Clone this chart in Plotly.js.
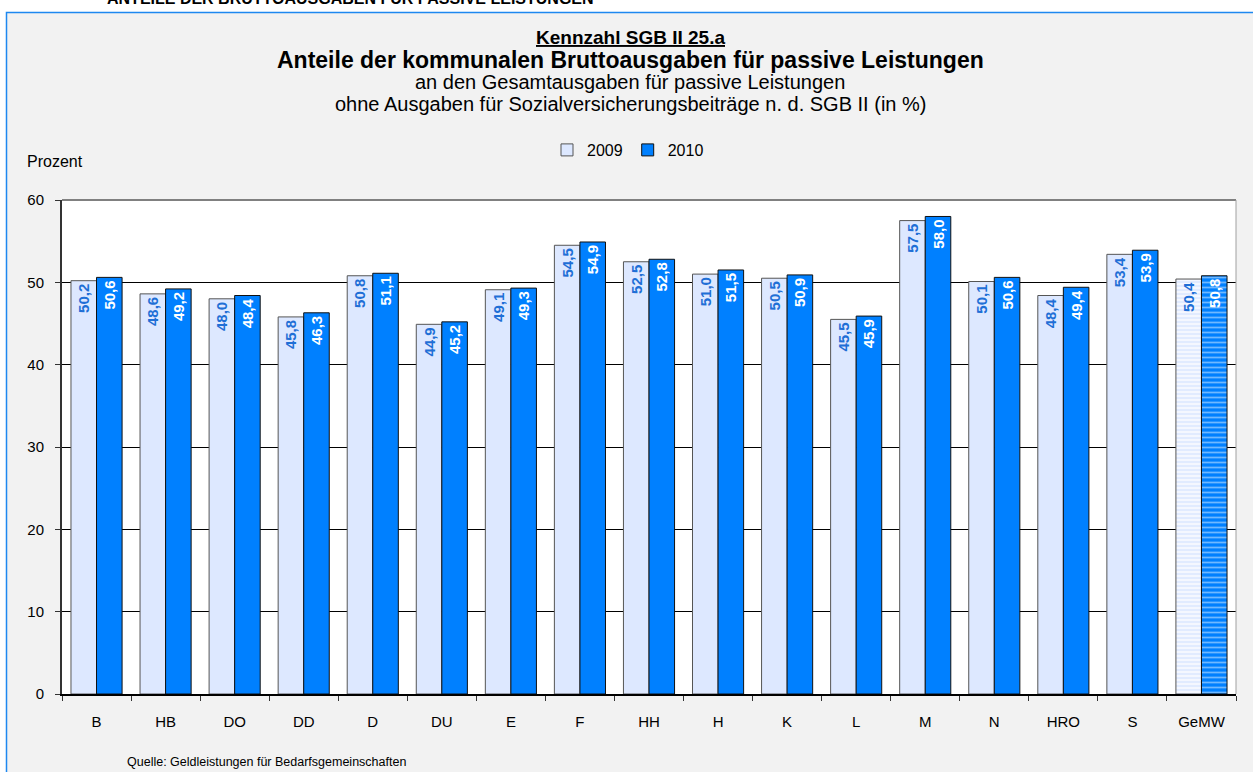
<!DOCTYPE html>
<html><head><meta charset="utf-8">
<script src="https://cdn.plot.ly/plotly-3.0.1.min.js"></script>
<style>html,body{margin:0;padding:0;background:#fff}</style>
</head><body><div id="chart" style="width:1253px;height:772px"></div>
<script>
const categories = ["B","HB","DO","DD","D","DU","E","F","HH","H","K","L","M","N","HRO","S","GeMW"];
const values2009 = [50.2,48.6,48.0,45.8,50.8,44.9,49.1,54.5,52.5,51.0,50.5,45.5,57.5,50.1,48.4,53.4,50.4];
const values2010 = [50.6,49.2,48.4,46.3,51.1,45.2,49.3,54.9,52.8,51.5,50.9,45.9,58.0,50.6,49.4,53.9,50.8];
const seriesNames = ["2009","2010"];

const W = 1253, H = 772;
const L = 62, R = 1236, T = 200, B = 694;
const px = x => (x - L) / (R - L);
const py = y => (B - y) / (B - T);
const fmt = v => v.toFixed(1).replace('.', ',');
const FONT = 'Arial, "Liberation Sans", sans-serif';
const isAvg = categories.map(c => c === "GeMW");

const trace2009 = {
  type: 'bar', name: seriesNames[0], x: categories, y: values2009,
  text: values2009.map(fmt), textposition: 'inside', insidetextanchor: 'end', textangle: -90,
  textfont: {family: FONT, size: 15, color: '#1f6fd6', weight: 'bold'},
  marker: {
    color: '#dde8ff',
    line: {color: '#555555', width: 1},
    pattern: {shape: isAvg.map(a => a ? '-' : ''), bgcolor: '#f4f7ff', fgcolor: '#dde8ff', size: 4, solidity: 0.4}
  },
  hoverinfo: 'skip', cliponaxis: false
};
const trace2010 = {
  type: 'bar', name: seriesNames[1], x: categories, y: values2010,
  text: values2010.map(fmt), textposition: 'inside', insidetextanchor: 'end', textangle: -90,
  textfont: {family: FONT, size: 15, color: '#ffffff', weight: 'bold'},
  marker: {
    color: '#0080ff',
    line: {color: '#111111', width: 1},
    pattern: {shape: isAvg.map(a => a ? '-' : ''), bgcolor: '#0080ff', fgcolor: '#6fb8ff', size: 5, solidity: 0.35}
  },
  hoverinfo: 'skip', cliponaxis: false
};

const ann = (text, x, y, size, opts={}) => Object.assign({
  text, xref: 'paper', yref: 'paper', x: px(x), y: py(y), showarrow: false,
  xanchor: 'center', yanchor: 'middle', font: {family: FONT, size, color: '#000'}
}, opts);

const layout = {
  width: W, height: H,
  margin: {l: L, r: W - R, t: T, b: H - B, pad: 0},
  paper_bgcolor: '#f2f2f2', plot_bgcolor: '#ffffff',
  barmode: 'group', bargap: 0.26, bargroupgap: 0,
  showlegend: true,
  legend: {orientation: 'h', x: px(628), y: py(150), xanchor: 'center', yanchor: 'middle',
    font: {family: FONT, size: 16, color: '#000'}, bgcolor: 'rgba(0,0,0,0)', itemwidth: 30, traceorder: 'normal'},
  xaxis: {
    type: 'category', showline: true, linecolor: '#000', linewidth: 2,
    ticks: 'outside', tickson: 'boundaries', ticklen: 5, tickcolor: '#333', tickwidth: 1,
    tickfont: {family: FONT, size: 15, color: '#000'}, ticklabelstandoff: 13,
    showgrid: false, fixedrange: true
  },
  yaxis: {
    range: [0, 60], dtick: 10, tick0: 0, showline: true, linecolor: '#333', linewidth: 2,
    ticks: 'outside', ticklen: 5, tickcolor: '#333',
    tickfont: {family: FONT, size: 15, color: '#000'}, ticklabelstandoff: 8,
    showgrid: true, gridcolor: '#000', gridwidth: 1, zeroline: false, fixedrange: true
  },
  shapes: [
    {type: 'rect', xref: 'paper', yref: 'paper', x0: px(-5), x1: px(6), y0: py(-5), y1: py(780), fillcolor: '#ffffff', line: {width: 0}, layer: 'below'},
    {type: 'rect', xref: 'paper', yref: 'paper', x0: px(-5), x1: px(1260), y0: py(-5), y1: py(12), fillcolor: '#ffffff', line: {width: 0}, layer: 'below'},
    {type: 'rect', xref: 'paper', yref: 'paper', x0: px(6.5), x1: px(1262), y0: py(12.5), y1: py(790), fillcolor: 'rgba(0,0,0,0)', line: {color: '#1e88f0', width: 1.5}, layer: 'below'},
    {type: 'line', xref: 'paper', yref: 'paper', x0: 0, x1: 1, y0: 1, y1: 1, line: {color: '#808080', width: 2}},
    {type: 'line', xref: 'paper', yref: 'paper', x0: 1, x1: 1, y0: 0, y1: 1, line: {color: '#a0a0a0', width: 1}}
  ],
  annotations: [
    ann('<b>ANTEILE DER BRUTTOAUSGABEN FÜR PASSIVE LEISTUNGEN</b>', 350, 9, 16, {yanchor: 'bottom'}),
    ann('<b><u>Kennzahl SGB II 25.a</u></b>', 630, 37, 19),
    ann('<b>Anteile der kommunalen Bruttoausgaben für passive Leistungen</b>', 630, 60, 23),
    ann('an den Gesamtausgaben für passive Leistungen', 630, 82, 20),
    ann('ohne Ausgaben für Sozialversicherungsbeiträge n. d. SGB II (in %)', 630, 104, 20),
    ann('Prozent', 25, 161, 16, {xanchor: 'left'}),
    ann('Quelle: Geldleistungen für Bedarfsgemeinschaften', 125, 762, 12.5, {xanchor: 'left'})
  ]
};

Plotly.newPlot('chart', [trace2009, trace2010], layout, {displayModeBar: false, staticPlot: true});
</script></body></html>
